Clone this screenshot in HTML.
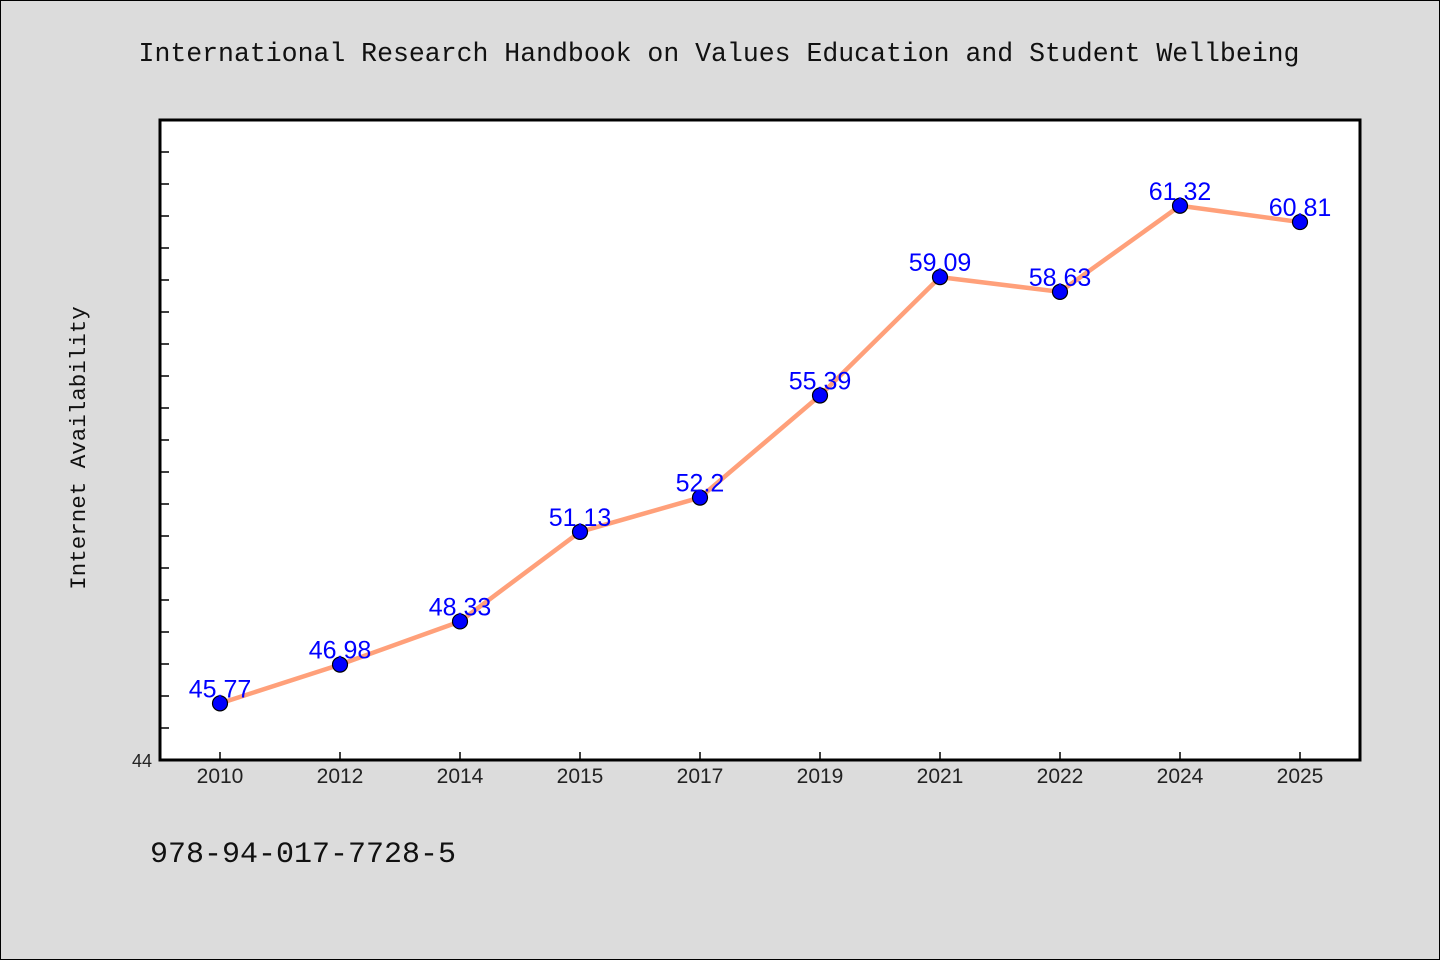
<!DOCTYPE html>
<html><head><meta charset="utf-8"><style>
body{margin:0;background:#dcdcdc;}
svg{display:block;}
</style></head><body>
<svg width="1440" height="960" xmlns="http://www.w3.org/2000/svg">
<rect x="0.5" y="0.5" width="1439" height="959" fill="#dcdcdc" stroke="#000"/>
<text x="719" y="61" text-anchor="middle" font-family="Liberation Mono, monospace" font-size="26.5" fill="#111">International Research Handbook on Values Education and Student Wellbeing</text>
<rect x="160" y="120" width="1200" height="640" fill="#fff" stroke="#000" stroke-width="3"/>
<g id="yticks"></g>
<g id="xticks"></g>
<text transform="translate(85,448) rotate(-90)" text-anchor="middle" font-family="Liberation Mono, monospace" font-size="22.5" fill="#111">Internet Availability</text>
<text x="150" y="862" font-family="Liberation Mono, monospace" font-size="30" fill="#111">978-94-017-7728-5</text>
<g id="series"></g>
</svg>
<script>
const categories=["2010","2012","2014","2015","2017","2019","2021","2022","2024","2025"];
const values=[45.77,46.98,48.33,51.13,52.2,55.39,59.09,58.63,61.32,60.81];
const valueLabels=["45.77","46.98","48.33","51.13","52.2","55.39","59.09","58.63","61.32","60.81"];
const yMin=44,yMax=64,yStep=1;
const NS="http://www.w3.org/2000/svg";
const L=160,R=1360,T=120,B=760;
function y(v){return B-(v-yMin)/(yMax-yMin)*(B-T);}
function x(i){const w=(R-L)/categories.length;return L+w*(i+0.5);}
function mk(t,a,p){const e=document.createElementNS(NS,t);for(const k in a)e.setAttribute(k,a[k]);p.appendChild(e);return e;}
const yt=document.getElementById('yticks');
for(let v=yMin+yStep;v<yMax;v+=yStep){
 const l=mk('line',{x1:161,x2:169,y1:y(v),y2:y(v),stroke:'#000','stroke-width':1.5},yt);
 
 
}
const y0=mk('text',{x:152,y:767,'text-anchor':'end','font-family':'Liberation Sans, sans-serif','font-size':18,fill:'#222'},yt);
y0.textContent=String(yMin);


const xt=document.getElementById('xticks');
categories.forEach((c,i)=>{
 const l=mk('line',{x1:x(i),x2:x(i),y1:752,y2:760,stroke:'#000','stroke-width':1.5},xt);
 
 
 const t=mk('text',{x:x(i),y:783,'text-anchor':'middle','font-family':'Liberation Sans, sans-serif','font-size':21,fill:'#222'},xt);
 t.textContent=c;
 
 
});
const s=document.getElementById('series');
const pl=mk('polyline',{points:values.map((v,i)=>x(i)+','+y(v)).join(' '),fill:'none',stroke:'#ffa07a','stroke-width':4.5},s);


values.forEach((v,i)=>{
 const c=mk('circle',{cx:x(i),cy:y(v),r:7.5,fill:'#0000ff',stroke:'#000','stroke-width':1.2},s);
 
 
 const t=mk('text',{x:x(i),y:y(v)-6,'text-anchor':'middle','font-family':'Liberation Sans, sans-serif','font-size':25,fill:'#0000ff'},s);
 t.textContent=valueLabels[i];
 
 
});
</script>
</body></html>
